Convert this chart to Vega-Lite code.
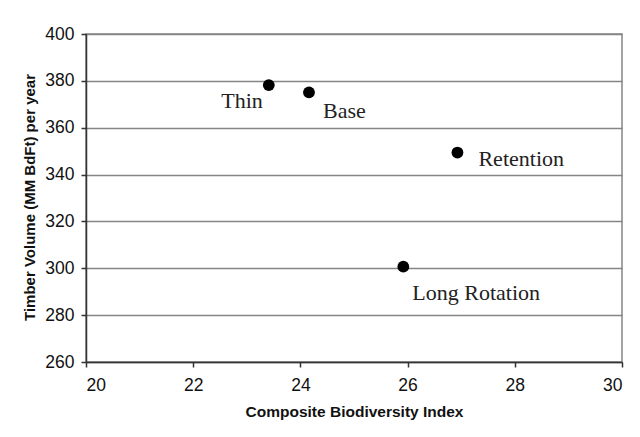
{
  "$schema": "https://vega.github.io/schema/vega-lite/v6.json",
  "autosize": {"type": "none"},
  "width": 536,
  "height": 328,
  "padding": {"left": 86, "top": 34, "right": 18, "bottom": 75},
  "background": "white",
  "config": {
    "view": {"stroke": "#858585", "strokeWidth": 1.5},
    "axis": {
      "labelFont": "Liberation Sans",
      "labelFontSize": 17.5,
      "labelColor": "#111",
      "titleFont": "Liberation Sans",
      "titleFontWeight": "bold",
      "titleColor": "#111",
      "domainColor": "#333",
      "domainWidth": 1.5,
      "tickColor": "#333",
      "tickWidth": 1.5,
      "tickSize": 5
    }
  },
  "data": {
    "values": [
      {"scenario": "Thin", "biodiversity": 23.41, "volume": 378.2},
      {"scenario": "Base", "biodiversity": 24.16, "volume": 375.1},
      {"scenario": "Retention", "biodiversity": 26.93, "volume": 349.4},
      {"scenario": "Long Rotation", "biodiversity": 25.92, "volume": 300.7}
    ]
  },
  "encoding": {
    "x": {
      "field": "biodiversity",
      "type": "quantitative",
      "scale": {"domain": [20, 30], "nice": false, "zero": false},
      "axis": {
        "title": "Composite Biodiversity Index",
        "titleFontSize": 15.5,
        "values": [20, 22, 24, 26, 28, 30],
        "grid": false,
        "labelPadding": 9,
        "titlePadding": 11
      }
    },
    "y": {
      "field": "volume",
      "type": "quantitative",
      "scale": {"domain": [260, 400], "nice": false, "zero": false},
      "axis": {
        "title": "Timber Volume (MM BdFt) per year",
        "titleFontSize": 15,
        "values": [260, 280, 300, 320, 340, 360, 380, 400],
        "grid": true,
        "gridColor": "#858585",
        "gridWidth": 1.5,
        "gridOpacity": 1,
        "labelPadding": 7,
        "titleX": -57,
        "titleY": 163,
        "titleAlign": "center",
        "titleBaseline": "middle",
        "titleAngle": -90
      }
    }
  },
  "layer": [
    {
      "mark": {"type": "point", "filled": true, "color": "black", "opacity": 1, "size": 140}
    },
    {
      "transform": [{"filter": "datum.scenario === 'Thin'"}],
      "mark": {"type": "text", "font": "Liberation Serif", "fontSize": 22, "color": "#222", "align": "right", "baseline": "middle", "dx": -6, "dy": 16},
      "encoding": {"text": {"field": "scenario"}}
    },
    {
      "transform": [{"filter": "datum.scenario === 'Base'"}],
      "mark": {"type": "text", "font": "Liberation Serif", "fontSize": 22, "color": "#222", "align": "left", "baseline": "middle", "dx": 14, "dy": 19},
      "encoding": {"text": {"field": "scenario"}}
    },
    {
      "transform": [{"filter": "datum.scenario === 'Retention'"}],
      "mark": {"type": "text", "font": "Liberation Serif", "fontSize": 22, "color": "#222", "align": "left", "baseline": "middle", "dx": 21, "dy": 6},
      "encoding": {"text": {"field": "scenario"}}
    },
    {
      "transform": [{"filter": "datum.scenario === 'Long Rotation'"}],
      "mark": {"type": "text", "font": "Liberation Serif", "fontSize": 22, "color": "#222", "align": "left", "baseline": "middle", "dx": 9, "dy": 26},
      "encoding": {"text": {"field": "scenario"}}
    }
  ]
}
